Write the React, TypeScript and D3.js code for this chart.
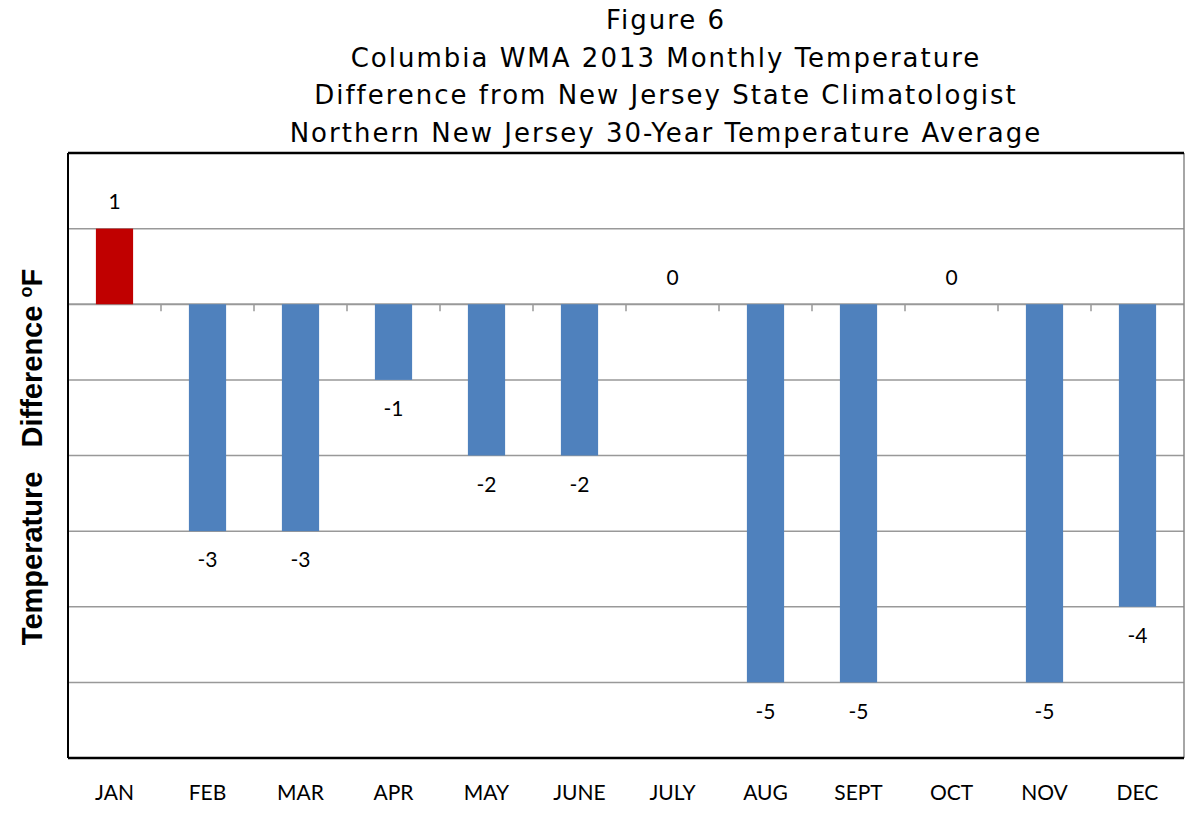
import React from "react";
import * as d3 from "d3";

const months = ["JAN", "FEB", "MAR", "APR", "MAY", "JUNE", "JULY", "AUG", "SEPT", "OCT", "NOV", "DEC"];
const diffs = [1, -3, -3, -1, -2, -2, 0, -5, -5, 0, -5, -4];
const yTicks = [2, 1, 0, -1, -2, -3, -4, -5, -6];
const titleLines = [
  "Figure 6",
  "Columbia WMA 2013 Monthly Temperature",
  "Difference from New Jersey State Climatologist",
  "Northern New Jersey 30-Year Temperature Average",
];

const W = 1185;
const H = 815;
const margin = { top: 153, right: 1, bottom: 57, left: 68 };

const App = () => {
  const innerW = W - margin.left - margin.right;
  const innerH = H - margin.top - margin.bottom;

  const x = d3.scaleBand<string>().domain(months).range([0, innerW]).paddingInner(0.6).paddingOuter(0.3);
  const xOuter = d3.scaleBand<string>().domain(months).range([0, innerW]).padding(0);
  const y = d3.scaleLinear().domain([-6, 2]).range([innerH, 0]);

  const labelFont = "Lato, 'Open Sans', sans-serif";

  return (
    <svg width={W} height={H} style={{ position: "absolute", left: 0, top: 0, background: "#fff" }}>
      {/* title */}
      {titleLines.map((t, i) => (
        <text
          key={t}
          x={666}
          y={29 + i * 37.5}
          textAnchor="middle"
          fontFamily="'DejaVu Sans', Verdana, sans-serif"
          fontSize={26}
          fill="#000"
          letterSpacing={2}
        >
          {t}
        </text>
      ))}

      <g transform={`translate(${margin.left},${margin.top})`}>
        {/* gridlines */}
        {yTicks.filter(v => v !== 2 && v !== -6).map(v => (
          <line key={v} x1={0} x2={innerW} y1={y(v)} y2={y(v)} stroke="#999" strokeWidth={v === 0 ? 2 : 1.5} />
        ))}

        {/* bars */}
        {diffs.map((d, i) => {
          const m = months[i];
          if (d === 0) return null;
          return (
            <rect
              key={m}
              x={x(m)}
              width={x.bandwidth()}
              y={Math.min(y(d), y(0))}
              height={Math.abs(y(d) - y(0))}
              fill={d > 0 ? "#C00000" : "#4F81BD"}
            />
          );
        })}

        {/* category tick marks on zero line */}
        {months.slice(1).map(m => (
          <line key={m} x1={xOuter(m)} x2={xOuter(m)} y1={y(0)} y2={y(0) + 7} stroke="#999" strokeWidth={1.5} />
        ))}

        {/* value labels */}
        {diffs.map((d, i) => {
          const m = months[i];
          const cx = (x(m) ?? 0) + x.bandwidth() / 2;
          const ly = d >= 0 ? y(d) - 27 : y(d) + 29;
          return (
            <text key={m} x={cx} y={ly} dy="0.35em" textAnchor="middle" fontFamily={labelFont} fontSize={21} fill="#000">
              {d}
            </text>
          );
        })}

        {/* frame */}
        <line x1={innerW} x2={innerW} y1={0} y2={innerH} stroke="#888" strokeWidth={1.5} />
        <line x1={0} x2={innerW} y1={0} y2={0} stroke="#000" strokeWidth={2.5} />
        <line x1={0} x2={innerW} y1={innerH} y2={innerH} stroke="#000" strokeWidth={2.5} />
        <line x1={0} x2={0} y1={0} y2={innerH} stroke="#000" strokeWidth={2} />

        {/* month labels */}
        {months.map(m => (
          <text
            key={m}
            x={(xOuter(m) ?? 0) + xOuter.bandwidth() / 2}
            y={innerH + 35}
            dy="0.35em"
            textAnchor="middle"
            fontFamily={labelFont}
            fontSize={21}
            fill="#000"
          >
            {m}
          </text>
        ))}
      </g>

      {/* y axis label */}
      <text
        transform="translate(42,457) rotate(-90)"
        textAnchor="middle"
        fontFamily="'Liberation Sans', Arial, sans-serif"
        fontWeight="bold"
        fontSize={29}
        fill="#000"
        style={{ whiteSpace: "pre" }}
      >
        {"Temperature   Difference "}
        <tspan fontSize={18} dy={-10}>o</tspan>
        <tspan dy={10}>F</tspan>
      </text>
    </svg>
  );
};

export default App;
